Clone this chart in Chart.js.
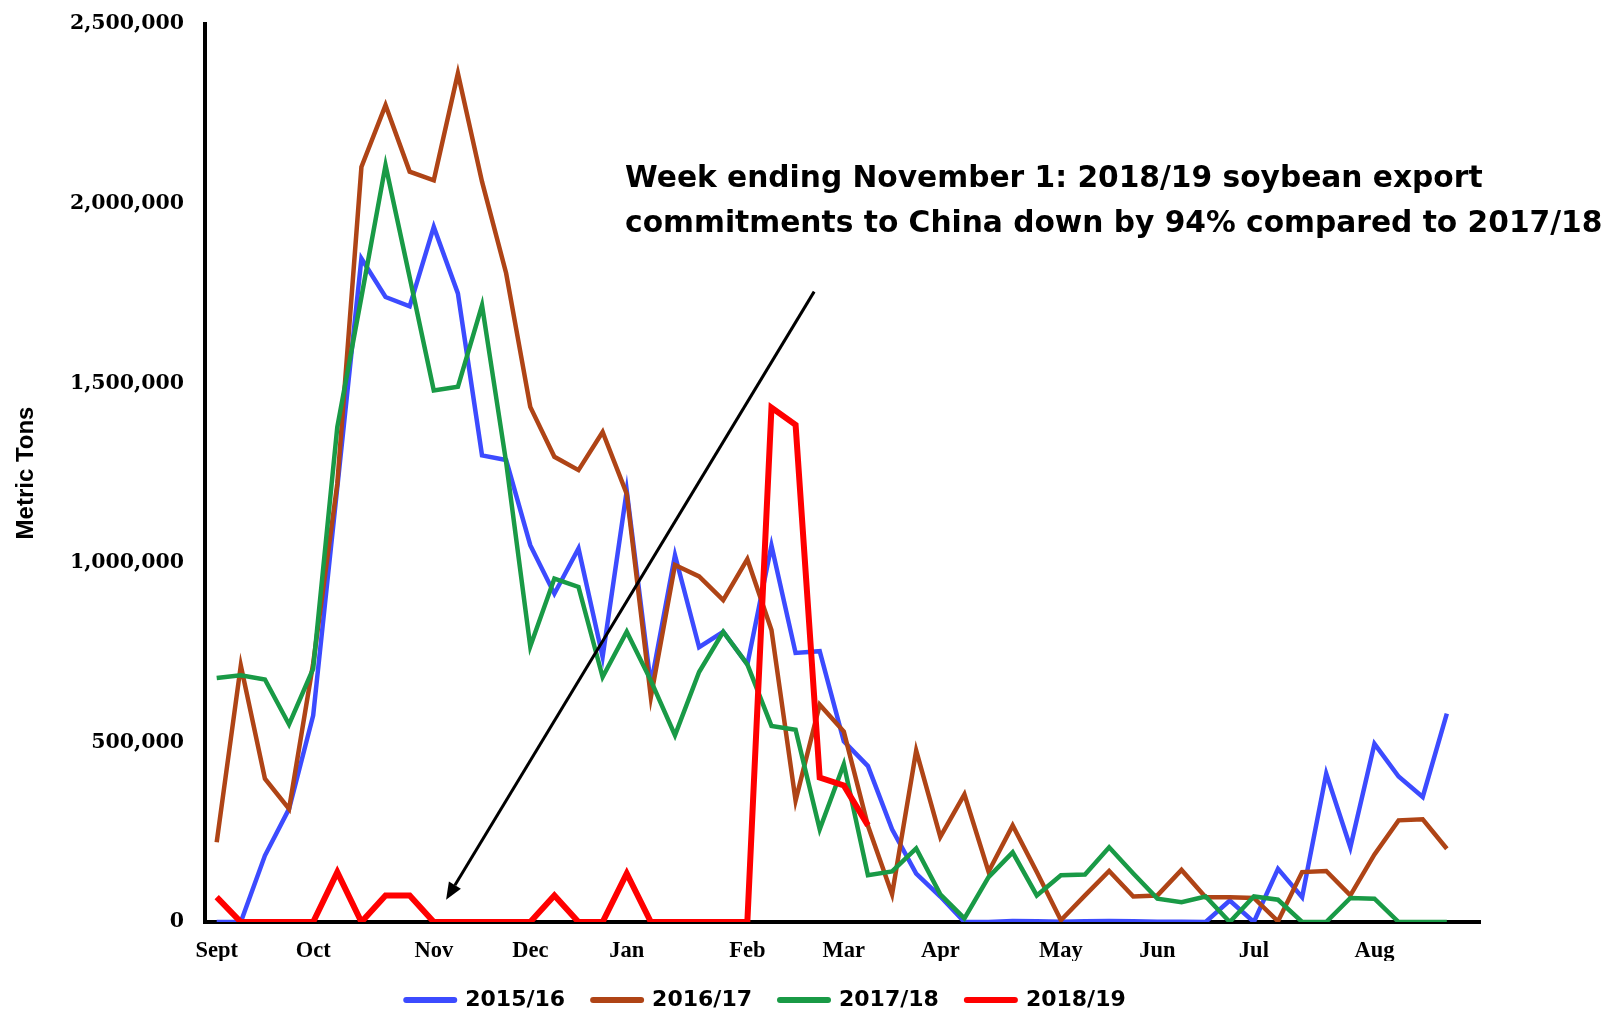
<!DOCTYPE html>
<html><head><meta charset="utf-8">
<script src="https://cdn.jsdelivr.net/npm/chart.js@4"></script>
<style>html,body{margin:0;padding:0;background:#fff}</style>
</head><body>
<canvas id="c" width="1614" height="1011"></canvas>
<script>
// ---- data ----
const monthTickIndex = [0, 4, 9, 13, 17, 22, 26, 30, 35, 39, 43, 48];
const monthTickLabels = ['Sept', 'Oct', 'Nov', 'Dec', 'Jan', 'Feb', 'Mar', 'Apr', 'May', 'Jun', 'Jul', 'Aug'];
const seriesLabels = ['2015/16', '2016/17', '2017/18', '2018/19'];
const s2015 = [0, 0, 185000, 315000, 575000, 1210000, 1847000, 1740000, 1714000, 1935000,
  1750000, 1299000, 1286000, 1049000, 914000, 1040000, 738000, 1200000, 660000, 1021000,
  765000, 808000, 717000, 1048000, 749000, 754000, 503000, 434000, 258000, 135000,
  71000, 0, 0, 3000, 2000, 1000, 2000, 3000, 2000, 1000,
  1000, 0, 60000, 0, 148000, 69000, 413000, 208000, 496000, 405000,
  348000, 580000];
const s2016 = [222000, 714000, 399000, 315000, 720000, 1220000, 2102000, 2274000, 2089000, 2065000,
  2363000, 2061000, 1806000, 1434000, 1295000, 1258000, 1364000, 1192000, 626000, 994000,
  962000, 896000, 1010000, 813000, 338000, 605000, 530000, 268000, 77000, 477000,
  237000, 355000, 140000, 269000, 139000, 5000, 74000, 142000, 71000, 74000,
  145000, 69000, 69000, 67000, 2000, 139000, 142000, 74000, 188000, 283000,
  286000, 204000];
const s2017 = [679000, 687000, 675000, 550000, 705000, 1378000, 1740000, 2107000, 1795000, 1480000,
  1490000, 1717000, 1280000, 767000, 956000, 933000, 682000, 808000, 672000, 520000,
  696000, 808000, 717000, 546000, 535000, 258000, 439000, 130000, 141000, 205000,
  77000, 10000, 125000, 194000, 74000, 130000, 132000, 208000, 135000, 65000,
  55000, 71000, 0, 71000, 62000, 0, 0, 67000, 65000, 0,
  0, 0];
const s2018 = [69000, 0, 0, 0, 0, 139000, 0, 74000, 74000, 0,
  0, 0, 0, 0, 74000, 0, 0, 135000, 0, 0,
  0, 0, 0, 1432000, 1384000, 402000, 380000, 269000, null, null,
  null, null, null, null, null, null, null, null, null, null,
  null, null, null, null, null, null, null, null, null, null,
  null, null];
const noteLines = ['Week ending November 1: 2018/19 soybean export',
                   'commitments to China down by 94% compared to 2017/18'];
const noteAnchor = { x: 16.93, y1: 2047000, y2: 1921000 };
const arrowFrom = { x: 24.77, y: 1755000 };
const arrowTo = { x: 9.51, y: 62000 };

// ---- chart ----
const toPoints = arr => arr.map((v, i) => ({ x: i, y: v }));

const notePlugin = {
  id: 'note',
  afterDatasetsDraw(chart) {
    const { ctx, scales: { x, y } } = chart;
    ctx.save();
    const x1 = x.getPixelForValue(arrowFrom.x), y1 = y.getPixelForValue(arrowFrom.y);
    const x2 = x.getPixelForValue(arrowTo.x), y2 = y.getPixelForValue(arrowTo.y);
    const ang = Math.atan2(y2 - y1, x2 - x1), head = 17, hw = 7;
    const bx = x2 - head * Math.cos(ang), by = y2 - head * Math.sin(ang);
    ctx.strokeStyle = '#000'; ctx.lineWidth = 3;
    ctx.beginPath(); ctx.moveTo(x1, y1); ctx.lineTo(bx, by); ctx.stroke();
    ctx.fillStyle = '#000';
    ctx.beginPath(); ctx.moveTo(x2, y2);
    ctx.lineTo(bx + hw * Math.sin(ang), by - hw * Math.cos(ang));
    ctx.lineTo(bx - hw * Math.sin(ang), by + hw * Math.cos(ang));
    ctx.closePath(); ctx.fill();

    ctx.font = 'bold 100px "DejaVu Sans"';
    const w = ctx.measureText(noteLines[0]).width;
    const size = 100 * 858 / w;
    ctx.font = 'bold ' + size.toFixed(2) + 'px "DejaVu Sans"';
    ctx.textAlign = 'left'; ctx.textBaseline = 'alphabetic';
    const tx = x.getPixelForValue(noteAnchor.x);
    ctx.fillText(noteLines[0], tx, y.getPixelForValue(noteAnchor.y1));
    ctx.fillText(noteLines[1], tx, y.getPixelForValue(noteAnchor.y2));
    ctx.restore();
  }
};

new Chart(document.getElementById('c'), {
  type: 'line',
  data: {
    datasets: [
      { label: seriesLabels[0], data: toPoints(s2015), borderColor: '#3C4BFF', backgroundColor: '#3C4BFF', borderWidth: 4.5, order: 4 },
      { label: seriesLabels[1], data: toPoints(s2016), borderColor: '#AF4416', backgroundColor: '#AF4416', borderWidth: 4.5, order: 3 },
      { label: seriesLabels[2], data: toPoints(s2017), borderColor: '#199A46', backgroundColor: '#199A46', borderWidth: 4.5, order: 2 },
      { label: seriesLabels[3], data: toPoints(s2018), borderColor: '#FF0000', backgroundColor: '#FF0000', borderWidth: 6, order: 1 }
    ]
  },
  options: {
    responsive: false,
    animation: false,
    layout: { padding: { top: 24, right: 134, bottom: 0, left: 52 } },
    elements: {
      point: { radius: 0, hoverRadius: 0 },
      line: { tension: 0, fill: false, borderJoinStyle: 'miter' }
    },
    scales: {
      x: {
        type: 'linear', min: -0.485, max: 52.375,
        grid: { display: false, drawTicks: false },
        border: { display: true, width: 4, color: '#000' },
        afterBuildTicks: s => { s.ticks = monthTickIndex.map(v => ({ value: v })); },
        afterFit: s => { s.height = 39; },
        ticks: {
          autoSkip: false, maxRotation: 0, padding: 16, color: '#000',
          font: { family: '"Liberation Serif"', weight: 'bold', size: 22.5 },
          callback: v => { const k = monthTickIndex.indexOf(v); return k >= 0 ? monthTickLabels[k] : ''; }
        }
      },
      y: {
        min: 0, max: 2500000,
        grid: { display: false, drawTicks: false },
        border: { display: true, width: 4, color: '#000' },
        afterFit: s => { s.width = 153; s.paddingTop = 0; s.paddingBottom = 0; },
        ticks: {
          stepSize: 500000, padding: 21, color: '#000',
          font: { family: '"DejaVu Serif"', weight: 'bold', size: 20.5 },
          callback: v => Number(v).toLocaleString('en-US')
        },
        title: {
          display: true, text: 'Metric Tons', color: '#000',
          font: { family: '"Liberation Sans"', weight: 'bold', size: 24 },
          padding: { top: -40.4, bottom: 0 }
        }
      }
    },
    plugins: {
      legend: {
        position: 'bottom', maxHeight: 50,
        labels: {
          usePointStyle: true, pointStyle: 'line', pointStyleWidth: 48, padding: 28,
          color: '#000',
          font: { family: '"DejaVu Sans"', weight: 'bold', size: 22 },
          sort: (a, b) => a.datasetIndex - b.datasetIndex,
          generateLabels: chart => Chart.defaults.plugins.legend.labels.generateLabels(chart)
            .map(it => Object.assign(it, { lineWidth: 6, lineCap: 'round' }))
        }
      },
      tooltip: { enabled: false }
    }
  },
  plugins: [notePlugin]
});
</script>
</body></html>
